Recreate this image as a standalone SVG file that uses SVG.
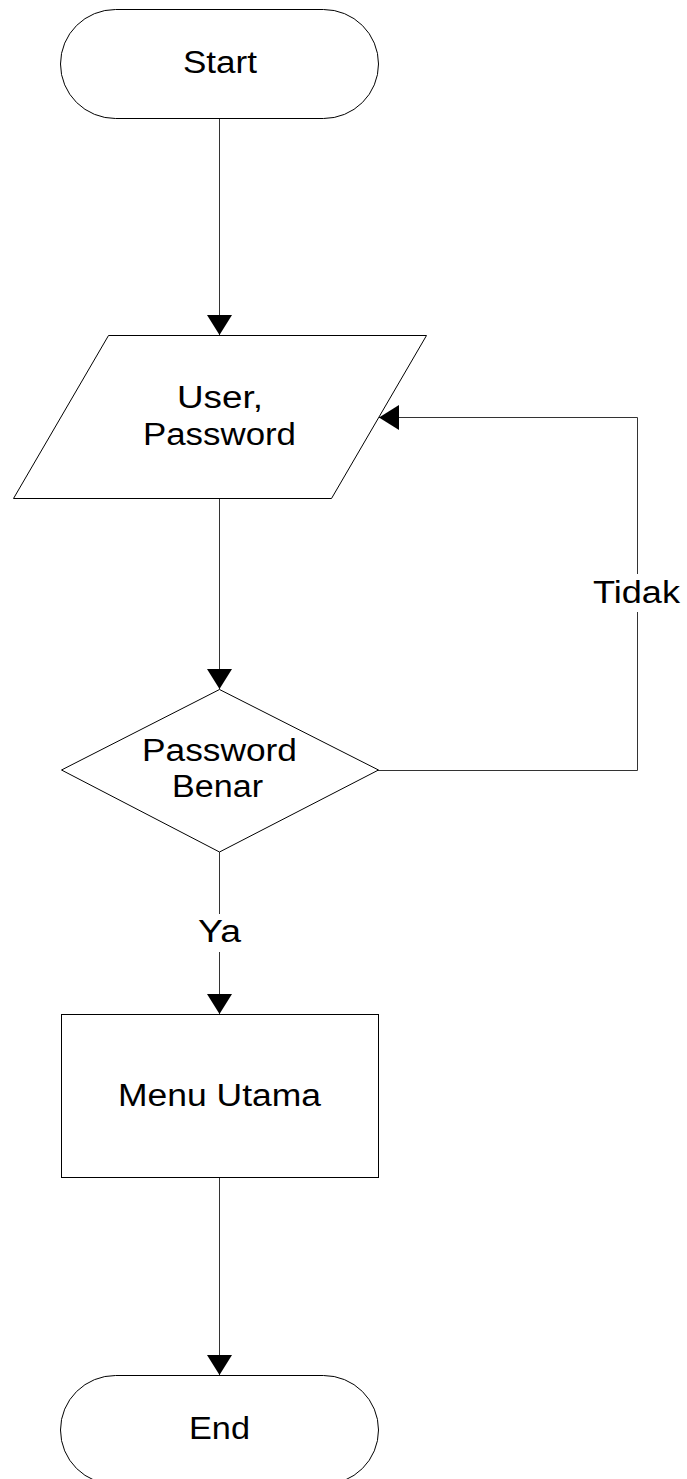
<svg xmlns="http://www.w3.org/2000/svg" width="687" height="1479" viewBox="0 0 687 1479">
<style>
.shape{fill:#fff;stroke:#000;stroke-width:1}
.conn{fill:none;stroke:#333;stroke-width:1}
.lbl{font-family:"Liberation Sans",Arial,sans-serif;font-size:31px;fill:#000}
</style>
<defs>
<marker id="arr" markerWidth="24" markerHeight="25" refX="20" refY="12.5" orient="auto" markerUnits="userSpaceOnUse">
<path d="M0,0 L20,12.5 L0,25 Z" fill="#000"/>
</marker>
</defs>
<rect width="687" height="1479" fill="#fff"/>
<g id="connectors">
<line class="conn" x1="219.5" y1="118" x2="219.5" y2="335" marker-end="url(#arr)"/>
<line class="conn" x1="219.5" y1="498" x2="219.5" y2="689" marker-end="url(#arr)"/>
<polyline class="conn" points="378,770.5 637.5,770.5 637.5,612"/>
<polyline class="conn" points="637.5,574 637.5,417.5 379,417.5" marker-end="url(#arr)"/>
<line class="conn" x1="219.5" y1="852" x2="219.5" y2="914"/>
<line class="conn" x1="219.5" y1="952" x2="219.5" y2="1014" marker-end="url(#arr)"/>
<line class="conn" x1="219.5" y1="1177" x2="219.5" y2="1375" marker-end="url(#arr)"/>
<text class="lbl" x="593" y="603" textLength="87" lengthAdjust="spacingAndGlyphs">Tidak</text>
<text class="lbl" x="198" y="942" textLength="43" lengthAdjust="spacingAndGlyphs">Ya</text>
</g>
<g id="start">
<rect class="shape" x="60.5" y="9.5" width="318" height="109" rx="55" ry="54.5"/>
<text class="lbl" x="183" y="73" textLength="74" lengthAdjust="spacingAndGlyphs">Start</text>
</g>
<g id="input">
<polygon class="shape" points="108.5,335.5 426.5,335.5 331.5,498.5 13.5,498.5"/>
<text class="lbl" x="177" y="408" textLength="86" lengthAdjust="spacingAndGlyphs">User,</text>
<text class="lbl" x="143" y="445" textLength="153" lengthAdjust="spacingAndGlyphs">Password</text>
</g>
<g id="decision">
<polygon class="shape" points="219.5,689.5 378.5,770 219.5,852 61.5,770"/>
<text class="lbl" x="142" y="761" textLength="155" lengthAdjust="spacingAndGlyphs">Password</text>
<text class="lbl" x="172" y="797" textLength="91" lengthAdjust="spacingAndGlyphs">Benar</text>
</g>
<g id="menu">
<rect class="shape" x="61.5" y="1014.5" width="317" height="163"/>
<text class="lbl" x="118" y="1106" textLength="203" lengthAdjust="spacingAndGlyphs">Menu Utama</text>
</g>
<g id="end">
<rect class="shape" x="60.5" y="1375.5" width="318" height="109" rx="55" ry="54.5"/>
<text class="lbl" x="189" y="1439" textLength="61" lengthAdjust="spacingAndGlyphs">End</text>
</g>
</svg>
